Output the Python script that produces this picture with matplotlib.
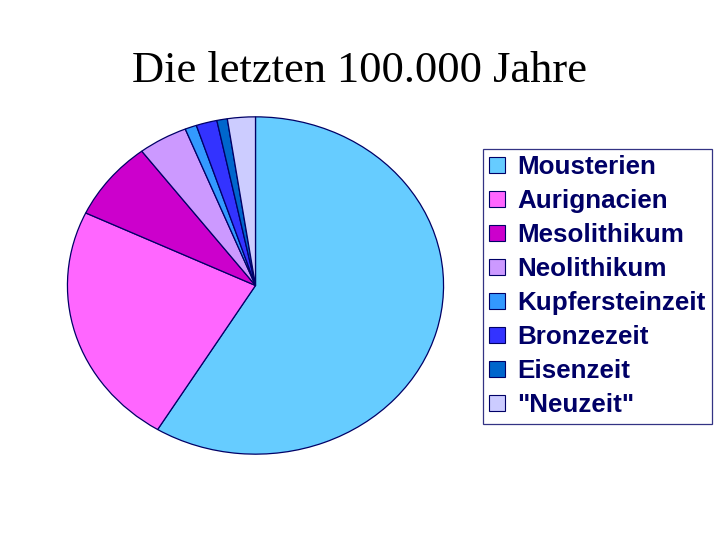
import numpy as np
import matplotlib.pyplot as plt

# Data
periods = ['Mousterien', 'Aurignacien', 'Mesolithikum', 'Neolithikum',
           'Kupfersteinzeit', 'Bronzezeit', 'Eisenzeit', '"Neuzeit"']
shares = [58.8, 23.4, 7.6, 4.25, 1.0, 1.8, 0.9, 2.4]
colors = ['#66CCFF', '#FF66FF', '#CC00CC', '#CC99FF',
          '#3399FF', '#3333FF', '#0066CC', '#CCCCFF']

W, H = 720, 540
fig = plt.figure(figsize=(7.2, 5.4), dpi=100)

# pie (slightly elliptical in the original)
ax = fig.add_axes([66.5 / W, (H - 455) / H, 378 / W, 339 / H])
wedges, _ = ax.pie(shares, colors=colors, startangle=90, counterclock=False,
                   wedgeprops=dict(edgecolor='#000066', linewidth=0.9))
ax.set_aspect('auto')
ax.set_xlim(-1.005, 1.005)
ax.set_ylim(-1.005, 1.005)
ax.axis('off')

fig.text(359 / W, (H - 82.5) / H, 'Die letzten 100.000 Jahre',
         family='Liberation Serif', fontsize=32, ha='center', va='baseline')

leg = fig.legend(wedges, periods, loc='upper left',
                 bbox_to_anchor=(483 / W, (H - 149) / H),
                 prop=dict(family='Liberation Sans', weight='bold', size=18.7),
                 labelcolor='#000066', frameon=True, fancybox=False,
                 edgecolor='#000066', handlelength=0.6, handleheight=0.56,
                 handletextpad=0.47, labelspacing=0.385, borderpad=0.25,
                 borderaxespad=0)
leg.get_frame().set_linewidth(0.9)
for h in leg.legend_handles:
    h.set_edgecolor('#000066')
    h.set_linewidth(0.8)

fig.savefig('out.png', dpi=100)
